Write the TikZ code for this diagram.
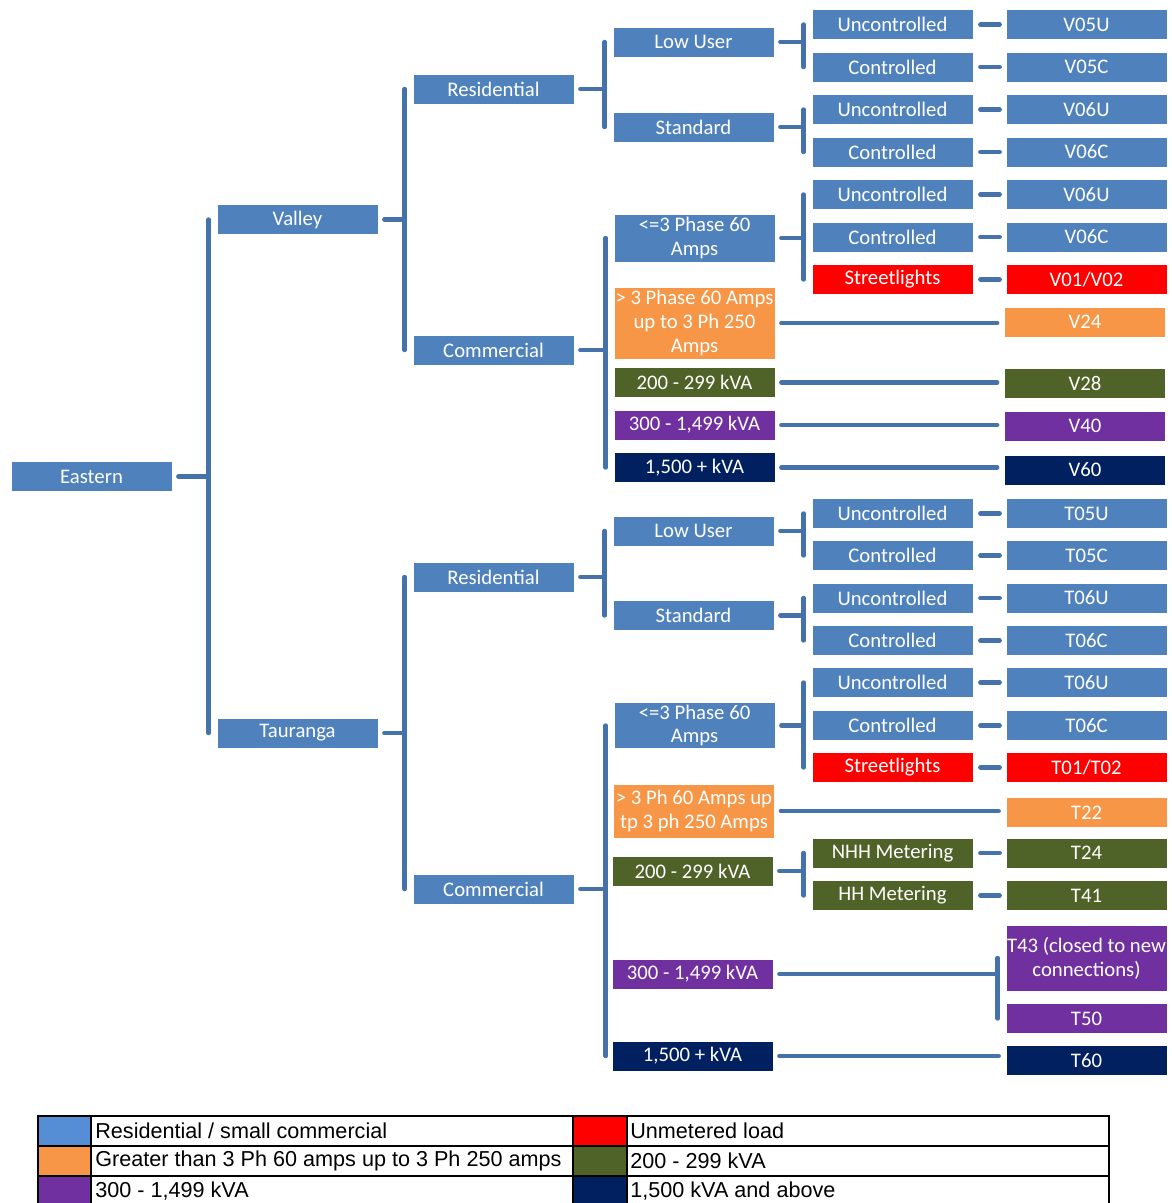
\documentclass[tikz,border=0pt]{standalone}
\usepackage{fontspec}
\setmainfont{Carlito}
\newfontfamily\legendfont{Liberation Sans}
\usetikzlibrary{calc}

\definecolor{boxBlue}{HTML}{4F81BD}
\definecolor{lineBlue}{HTML}{4672AC}
\definecolor{boxOrange}{HTML}{F79646}
\definecolor{boxRed}{HTML}{FF0000}
\definecolor{boxGreen}{HTML}{4F6228}
\definecolor{boxPurple}{HTML}{7030A0}
\definecolor{boxNavy}{HTML}{002060}
\definecolor{legBlue}{HTML}{558ED5}

\begin{document}
\begin{tikzpicture}[x=0.02cm, y=-0.02cm, font=\fontsize{11.8}{13.5}\selectfont]
	\tikzstyle{boxStyle}=[shape = rectangle, minimum width = 3.22cm, minimum height = 0.6cm, inner sep = 0pt, align = center, text = white, draw = white, line width = 0.4pt]
	\tikzstyle{blueStyle}=[boxStyle, fill = boxBlue]
	\tikzstyle{orangeStyle}=[boxStyle, fill = boxOrange]
	\tikzstyle{redStyle}=[boxStyle, fill = boxRed]
	\tikzstyle{greenStyle}=[boxStyle, fill = boxGreen]
	\tikzstyle{purpleStyle}=[boxStyle, fill = boxPurple]
	\tikzstyle{navyStyle}=[boxStyle, fill = boxNavy]
	\tikzstyle{linkStyle}=[draw = lineBlue, line width = 2.5pt, line cap = round]
	\tikzstyle{legendText}=[anchor = west, inner sep = 0pt, font = \legendfont\fontsize{12.3}{14}\selectfont]
	\useasboundingbox (0,0) rectangle (1172,1203);
	% tree
	\node[blueStyle] (eastern) at (91.5,476.5) {Eastern};
	\node[blueStyle] (valley) at (297.5,219.5) {Valley};
	\node[blueStyle] (tauranga) at (297.5,733) {Tauranga};
	\node[blueStyle] (resV) at (493.5,89) {Residential};
	\node[blueStyle] (comV) at (493.5,350) {Commercial};
	\node[blueStyle] (resT) at (493.5,577) {Residential};
	\node[blueStyle] (comT) at (493.5,889) {Commercial};
	% valley classes
	\node[blueStyle] (lowV) at (693.5,42) {Low User};
	\node[blueStyle] (stdV) at (693.5,127) {Standard};
	\node[blueStyle, minimum height = 0.96cm] (ph3V) at (694.5,238) {<=3 Phase 60\\Amps};
	\node[orangeStyle, minimum height = 1.44cm] (bigV) at (694.5,323) {\makebox[3.22cm]{> 3 Phase 60 Amps}\\up to 3 Ph 250\\Amps};
	\node[greenStyle] (kva2V) at (694.5,382.5) {200 - 299 kVA};
	\node[purpleStyle] (kva3V) at (694.5,425) {300 - 1,499 kVA};
	\node[navyStyle] (kva15V) at (694.5,467.5) {1,500 + kVA};
	\node[blueStyle] (uncA) at (892.5,24.5) {Uncontrolled};
	\node[blueStyle] (conA) at (892.5,67) {Controlled};
	\node[blueStyle] (uncB) at (892.5,109.5) {Uncontrolled};
	\node[blueStyle] (conB) at (892.5,152) {Controlled};
	\node[blueStyle] (uncC) at (892.5,194.5) {Uncontrolled};
	\node[blueStyle] (conC) at (892.5,237) {Controlled};
	\node[redStyle] (strV) at (892.5,279.5) {Streetlights};
	\node[blueStyle] (v05u) at (1086.5,24.5) {V05U};
	\node[blueStyle] (v05c) at (1086.5,67) {V05C};
	\node[blueStyle] (v06u) at (1086.5,109.5) {V06U};
	\node[blueStyle] (v06c) at (1086.5,152) {V06C};
	\node[blueStyle] (v06uB) at (1086.5,194.5) {V06U};
	\node[blueStyle] (v06cB) at (1086.5,237) {V06C};
	\node[redStyle] (v0102) at (1086.5,279.5) {V01/V02};
	\node[orangeStyle] (v24) at (1085,322) {V24};
	\node[greenStyle] (v28) at (1085,383) {V28};
	\node[purpleStyle] (v40) at (1085,426) {V40};
	\node[navyStyle] (v60) at (1085,470) {V60};
	% tauranga classes
	\node[blueStyle] (lowT) at (693.5,531) {Low User};
	\node[blueStyle] (stdT) at (693.5,615.5) {Standard};
	\node[blueStyle, minimum height = 0.92cm] (ph3T) at (694.5,725.5) {<=3 Phase 60\\Amps};
	\node[orangeStyle, minimum height = 1.08cm] (bigT) at (694,811) {\makebox[3.22cm]{> 3 Ph 60 Amps up}\\\makebox[3.22cm]{tp 3 ph 250 Amps}};
	\node[greenStyle] (kva2T) at (692.5,871) {200 - 299 kVA};
	\node[purpleStyle] (kva3T) at (692.5,974) {300 - 1,499 kVA};
	\node[navyStyle] (kva15T) at (692.5,1056) {1,500 + kVA};
	\node[blueStyle] (uncD) at (892.5,513.5) {Uncontrolled};
	\node[blueStyle] (conD) at (892.5,555.5) {Controlled};
	\node[blueStyle] (uncE) at (892.5,598) {Uncontrolled};
	\node[blueStyle] (conE) at (892.5,640.5) {Controlled};
	\node[blueStyle] (uncF) at (892.5,682.5) {Uncontrolled};
	\node[blueStyle] (conF) at (892.5,725.5) {Controlled};
	\node[redStyle] (strT) at (892.5,767.5) {Streetlights};
	\node[greenStyle] (nhh) at (892.5,853) {NHH Metering};
	\node[greenStyle] (hh) at (892.5,895.5) {HH Metering};
	\node[blueStyle] (t05u) at (1086.5,513.5) {T05U};
	\node[blueStyle] (t05c) at (1086.5,555.5) {T05C};
	\node[blueStyle] (t06u) at (1086.5,598) {T06U};
	\node[blueStyle] (t06c) at (1086.5,640.5) {T06C};
	\node[blueStyle] (t06uB) at (1086.5,682.5) {T06U};
	\node[blueStyle] (t06cB) at (1086.5,725.5) {T06C};
	\node[redStyle] (t0102) at (1086.5,767.5) {T01/T02};
	\node[orangeStyle] (t22) at (1086.5,812.5) {T22};
	\node[greenStyle] (t24) at (1086.5,853) {T24};
	\node[greenStyle] (t41) at (1086.5,895.5) {T41};
	\node[purpleStyle, minimum height = 1.32cm] (t43) at (1086.5,958) {\makebox[3.22cm]{T43 (closed to new}\\connections)};
	\node[purpleStyle] (t50) at (1086.5,1018.5) {T50};
	\node[navyStyle] (t60) at (1086.5,1060.5) {T60};
	% brackets
	\foreach \p/\f/\l in {eastern/valley/tauranga, valley/resV/comV, tauranga/resT/comT,
		resV/lowV/stdV, comV/ph3V/kva15V, resT/lowT/stdT, comT/ph3T/kva15T,
		lowV/uncA/conA, stdV/uncB/conB, ph3V/uncC/strV,
		lowT/uncD/conD, stdT/uncE/conE, ph3T/uncF/strT,
		kva2T/nhh/hh, kva3T/t43/t50}
	{
		\draw[linkStyle] ($(\p.east)+(6,0)$) -- ($(\p.east -| \f.west)+(-8,0)$);
		\draw[linkStyle] ($(\f.west)+(-8,0)$) -- ($(\f.west |- \l.west)+(-8,0)$);
	}
	% single links
	\foreach \p/\c in {bigV/v24, kva2V/v28, kva3V/v40, kva15V/v60, bigT/t22, kva15T/t60}
		\draw[linkStyle] ($(\p.east)+(6,0)$) -- ($(\p.east -| \c.west)+(-7,0)$);
	\foreach \a/\b in {uncA/v05u, conA/v05c, uncB/v06u, conB/v06c, uncC/v06uB, conC/v06cB, strV/v0102,
		uncD/t05u, conD/t05c, uncE/t06u, conE/t06c, uncF/t06uB, conF/t06cB, strT/t0102, nhh/t24, hh/t41}
		\draw[linkStyle] ($(\a.east)+(7,0)$) -- ($(\a.east -| \b.west)+(-6,0)$);
	% legend
	\fill[legBlue] (38,1116) rectangle (91,1146);
	\fill[boxOrange] (38,1146) rectangle (91,1176);
	\fill[boxPurple] (38,1176) rectangle (91,1206);
	\fill[boxRed] (573,1116) rectangle (627,1146);
	\fill[boxGreen] (573,1146) rectangle (627,1176);
	\fill[boxNavy] (573,1176) rectangle (627,1206);
	\draw[black, line width = 1.4pt] (38,1206) -- (38,1116) -- (1109,1116) -- (1109,1206)
		(38,1146) -- (1109,1146) (38,1176) -- (1109,1176)
		(91,1116) -- (91,1206) (573,1116) -- (573,1206) (627,1116) -- (627,1206);
	\node[legendText] (legRes) at (95,1131) {Residential / small commercial};
	\node[legendText] (legOrange) at (95,1161) {Greater than 3 Ph 60 amps up to 3 Ph 250 amps};
	\node[legendText] (legPurple) at (95,1191) {300 - 1,499 kVA};
	\node[legendText] (legRed) at (630,1131) {Unmetered load};
	\node[legendText] (legGreen) at (630,1161) {200 - 299 kVA};
	\node[legendText] (legNavy) at (630,1191) {1,500 kVA and above};
\end{tikzpicture}
\end{document}
